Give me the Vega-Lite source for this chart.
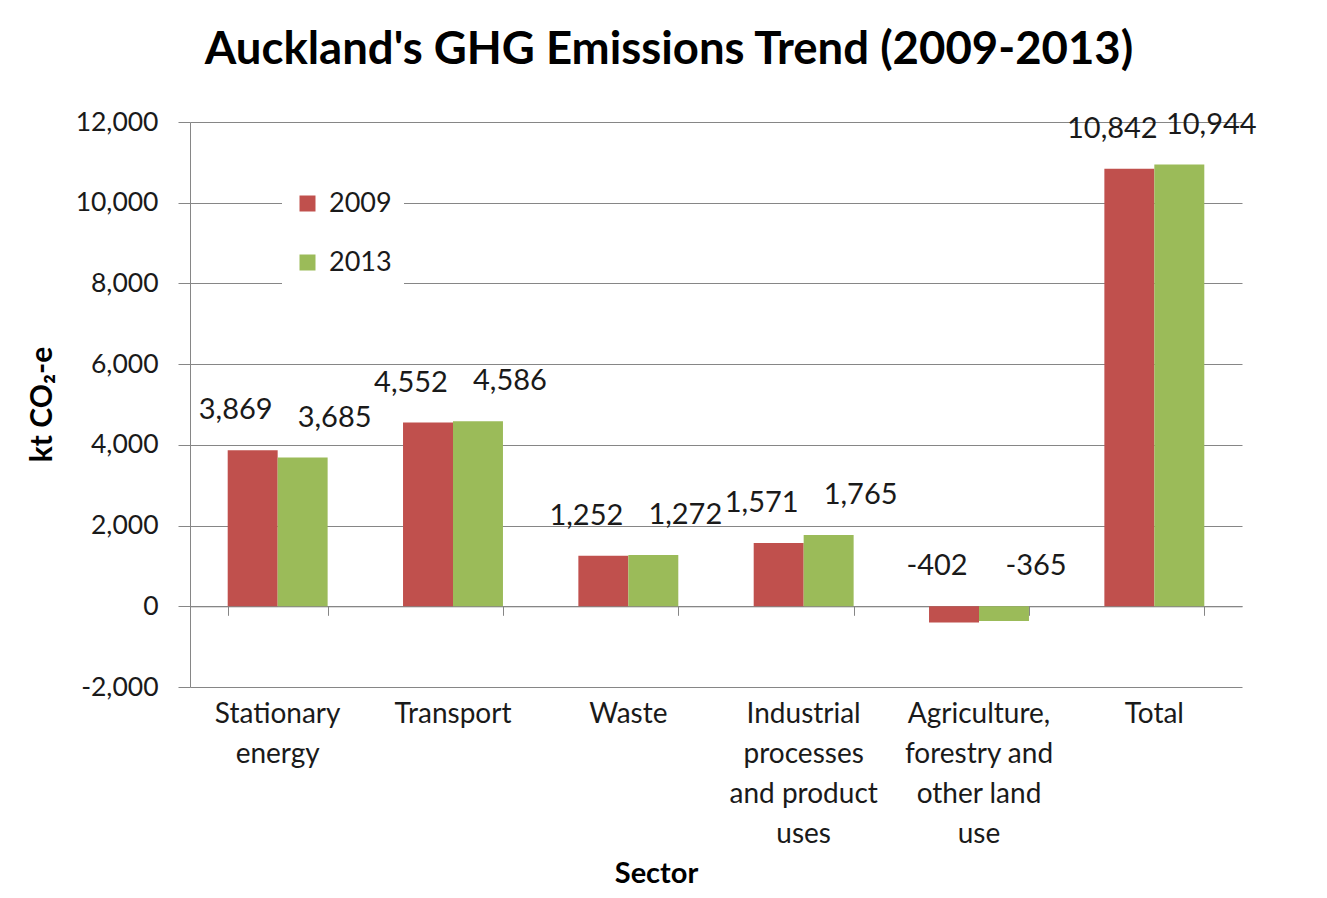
{
  "$schema": "https://vega.github.io/schema/vega-lite/v6.json",
  "width": 1052,
  "height": 565,
  "autosize": {"type": "none"},
  "padding": {"left": 190, "top": 122, "right": 85, "bottom": 211},
  "background": "white",
  "title": {
    "text": "Auckland's GHG Emissions Trend (2009-2013)",
    "font": "Lato",
    "fontSize": 45.5,
    "fontWeight": "bold",
    "color": "#000000",
    "anchor": "middle",
    "dx": -47,
    "offset": 36
  },
  "config": {
    "font": "Lato",
    "view": {"stroke": null},
    "axis": {"labelFont": "Lato", "titleFont": "Lato", "labelColor": "#1a1a1a", "titleColor": "#000000"}
  },
  "data": {
    "values": [
      {"sector": "Stationary energy", "year": "2009", "value": 3869},
      {"sector": "Stationary energy", "year": "2013", "value": 3685},
      {"sector": "Transport", "year": "2009", "value": 4552},
      {"sector": "Transport", "year": "2013", "value": 4586},
      {"sector": "Waste", "year": "2009", "value": 1252},
      {"sector": "Waste", "year": "2013", "value": 1272},
      {"sector": "Industrial processes and product uses", "year": "2009", "value": 1571},
      {"sector": "Industrial processes and product uses", "year": "2013", "value": 1765},
      {"sector": "Agriculture, forestry and other land use", "year": "2009", "value": -402},
      {"sector": "Agriculture, forestry and other land use", "year": "2013", "value": -365},
      {"sector": "Total", "year": "2009", "value": 10842},
      {"sector": "Total", "year": "2013", "value": 10944}
    ]
  },
  "transform": [
    {"calculate": "max(datum.value, 0)", "as": "labelY"},
    {"calculate": "replace(format(datum.value, ','), '\u2212', '-')", "as": "label"}
  ],
  "resolve": {"axis": {"x": "independent"}},
  "layer": [
    {
      "mark": {"type": "bar"},
      "encoding": {
        "x": {
          "field": "sector",
          "type": "nominal",
          "sort": ["Stationary energy", "Transport", "Waste", "Industrial processes and product uses", "Agriculture, forestry and other land use", "Total"],
          "scale": {"paddingInner": 0.43, "paddingOuter": 0.215},
          "axis": {
            "orient": "bottom",
            "domain": false,
            "ticks": false,
            "grid": false,
            "labelAngle": 0,
            "labelFontSize": 28,
            "labelLineHeight": 40,
            "labelPadding": 13,
            "labelExpr": "datum.value == 'Stationary energy' ? ['Stationary','energy'] : datum.value == 'Industrial processes and product uses' ? ['Industrial','processes','and product','uses'] : datum.value == 'Agriculture, forestry and other land use' ? ['Agriculture,','forestry and','other land','use'] : datum.value",
            "title": "Sector",
            "titleFontSize": 29,
            "titleFontWeight": "bold",
            "titleX": 466,
            "titleY": 186,
            "titleBaseline": "middle",
            "titleAnchor": "middle"
          }
        },
        "xOffset": {"field": "year", "type": "nominal", "scale": {"paddingInner": 0, "paddingOuter": 0}},
        "y": {
          "field": "value",
          "type": "quantitative",
          "scale": {"domain": [-2000, 12000], "nice": false},
          "axis": {
            "values": [-2000, 0, 2000, 4000, 6000, 8000, 10000, 12000],
            "labelExpr": "replace(format(datum.value, ','), '\u2212', '-')",
            "labelFontSize": 26.5,
            "labelPadding": 20,
            "domain": true,
            "domainColor": "#868686",
            "ticks": true,
            "tickSize": 12,
            "tickColor": "#868686",
            "grid": true,
            "gridColor": "#868686",
            "gridOpacity": 1,
            "title": "kt CO\u2082-e",
            "titleFontSize": 30,
            "titleFontWeight": "bold",
            "titleAngle": 270,
            "titleX": -148,
            "titleY": 282,
            "titleAlign": "center",
            "titleBaseline": "middle"
          }
        },
        "color": {
          "field": "year",
          "type": "nominal",
          "scale": {"domain": ["2009", "2013"], "range": ["#C0504D", "#9BBB59"]},
          "legend": {
            "orient": "none",
            "legendX": 92,
            "legendY": 56,
            "title": null,
            "fillColor": "white",
            "padding": 12,
            "symbolType": "square",
            "symbolSize": 256,
            "symbolStrokeWidth": 0,
            "symbolOpacity": 1,
            "labelFont": "Lato",
            "labelFontSize": 27,
            "labelColor": "#1a1a1a",
            "labelOffset": 8,
            "rowPadding": 31
          }
        }
      }
    },
    {
      "mark": {"type": "point", "opacity": 0},
      "encoding": {
        "x": {
          "field": "sector",
          "type": "nominal",
          "sort": ["Stationary energy", "Transport", "Waste", "Industrial processes and product uses", "Agriculture, forestry and other land use", "Total"],
          "axis": {
            "orient": "bottom",
            "offset": -80.7,
            "labels": false,
            "title": null,
            "grid": false,
            "domain": true,
            "domainColor": "#868686",
            "ticks": true,
            "tickBand": "extent",
            "tickSize": 9,
            "tickColor": "#868686"
          }
        },
        "y": {"field": "value", "type": "quantitative"}
      }
    },
    {
      "transform": [{"filter": "datum.year == '2009'"}],
      "mark": {"type": "text", "font": "Lato", "fontSize": 29, "color": "#1a1a1a", "dy": -40, "dx": -17},
      "encoding": {
        "x": {"field": "sector", "type": "nominal", "sort": ["Stationary energy", "Transport", "Waste", "Industrial processes and product uses", "Agriculture, forestry and other land use", "Total"], "axis": null},
        "xOffset": {"field": "year", "type": "nominal"},
        "y": {"field": "labelY", "type": "quantitative"},
        "text": {"field": "label"}
      }
    },
    {
      "transform": [{"filter": "datum.year == '2013'"}],
      "mark": {"type": "text", "font": "Lato", "fontSize": 29, "color": "#1a1a1a", "dy": -40, "dx": 32},
      "encoding": {
        "x": {"field": "sector", "type": "nominal", "sort": ["Stationary energy", "Transport", "Waste", "Industrial processes and product uses", "Agriculture, forestry and other land use", "Total"], "axis": null},
        "xOffset": {"field": "year", "type": "nominal"},
        "y": {"field": "labelY", "type": "quantitative"},
        "text": {"field": "label"}
      }
    }
  ]
}
